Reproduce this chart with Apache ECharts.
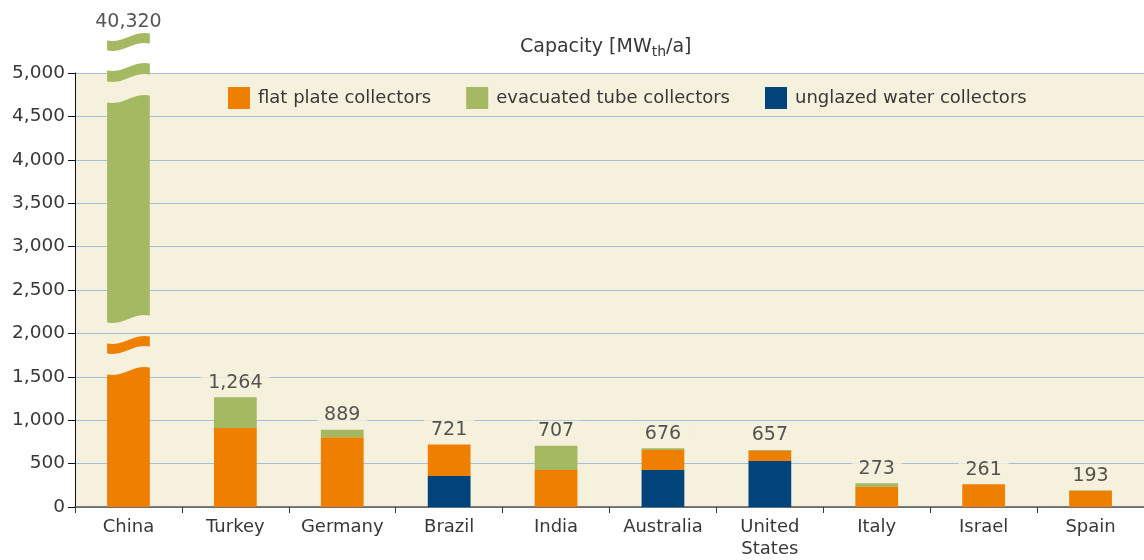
<!DOCTYPE html>
<html>
<head>
<meta charset="utf-8">
<script src="https://cdn.jsdelivr.net/npm/echarts@6/dist/echarts.min.js"></script>
<style>
  html, body { margin: 0; padding: 0; background: #fff; }
  #chart { width: 1144px; height: 560px; }
</style>
</head>
<body>
<div id="chart"></div>
<script>
// data (MWth/a)
const countries = ['China', 'Turkey', 'Germany', 'Brazil', 'India', 'Australia', 'United\nStates', 'Italy', 'Israel', 'Spain'];
const totals = [40320, 1264, 889, 721, 707, 676, 657, 273, 261, 193];
const flatPlate = [2400, 910, 805, 364, 426, 231, 115, 230, 261, 186];
const evacuatedTube = [37920, 354, 84, 0, 281, 19, 12, 43, 0, 7];
const unglazed = [0, 0, 0, 357, 0, 426, 530, 0, 0, 0];
const yTicks = [0, 500, 1000, 1500, 2000, 2500, 3000, 3500, 4000, 4500, 5000];

// China does not fit, so its bar is drawn broken (cuts in axis units)
const brokenTop = 5415;
const chinaOrangeParts = [[0, 1567], [1809, 1924]];
const chinaGreenParts = [[2166, 4700], [4942, 5069], [5300, brokenTop]];

const ORANGE = '#ee7f00';
const GREEN = '#a5b962';
const BLUE = '#00447b';
const BEIGE = '#f6f1dd';
const TEXT = '#383838';
const FONT = '"DejaVu Sans", sans-serif';

const chart = echarts.init(document.getElementById('chart'));

// wavy edge offset, screen px, t in 0..1
function wave(t) {
  return 3.5 * Math.cos(Math.PI * t) + 1 * Math.sin(2 * Math.PI * t);
}

function piecePoints(api, idx, from, to, halfW) {
  const c0 = api.coord([idx, from]);
  const c1 = api.coord([idx, to]);
  const x0 = c0[0] - halfW, x1 = c0[0] + halfW;
  const pts = [];
  const n = 16;
  // bottom edge, left to right
  for (let i = 0; i <= n; i++) {
    const t = i / n;
    pts.push([x0 + (x1 - x0) * t, c0[1] + (from === 0 ? 0 : wave(t))]);
  }
  // top edge, right to left
  for (let i = n; i >= 0; i--) {
    const t = i / n;
    pts.push([x0 + (x1 - x0) * t, c1[1] + wave(t)]);
  }
  return pts;
}

function renderBroken(params, api) {
  const idx = api.value(0);
  const halfW = api.size([1, 0])[0] * 0.4 / 2;
  const children = [];
  chinaOrangeParts.forEach(p => {
    children.push({ type: 'polygon', shape: { points: piecePoints(api, idx, p[0], p[1], halfW) }, style: { fill: ORANGE } });
  });
  chinaGreenParts.forEach(p => {
    children.push({ type: 'polygon', shape: { points: piecePoints(api, idx, p[0], p[1], halfW) }, style: { fill: GREEN } });
  });
  return { type: 'group', children: children };
}

const skipChina = arr => arr.map((v, i) => (i === 0 ? '-' : v));

const option = {
  animation: false,
  backgroundColor: '#fff',
  textStyle: { fontFamily: FONT },
  title: {
    text: '{a|Capacity [MW}{s|th}{a|/a]}',
    left: 515,
    top: 31,
    textStyle: {
      rich: {
        a: { fontFamily: FONT, fontSize: 19, color: TEXT, fontWeight: 'normal' },
        s: { fontFamily: FONT, fontSize: 14, color: TEXT, fontWeight: 'normal', padding: [9, 0, 0, 0] }
      }
    }
  },
  legend: {
    left: 223,
    top: 82,
    itemWidth: 22,
    itemHeight: 22,
    itemGap: 35,
    icon: 'rect',
    textStyle: { fontFamily: FONT, fontSize: 18, color: TEXT, padding: [0, 0, 0, 3] },
    data: ['flat plate collectors', 'evacuated tube collectors', 'unglazed water collectors']
  },
  grid: {
    left: 75, right: 0, top: 73, bottom: 53,
    show: true, backgroundColor: BEIGE, borderWidth: 0
  },
  xAxis: {
    type: 'category',
    data: countries,
    axisLine: { lineStyle: { color: '#555', width: 1.5 } },
    axisTick: { show: true, interval: 0, length: 6, lineStyle: { color: TEXT } },
    axisLabel: { interval: 0, fontFamily: FONT, fontSize: 18, color: TEXT, margin: 9, lineHeight: 22 }
  },
  yAxis: {
    type: 'value',
    min: 0, max: 5000, interval: 500,
    axisLine: { show: true, lineStyle: { color: '#111' } },
    axisTick: { show: true, length: 7, lineStyle: { color: '#111' } },
    axisLabel: {
      fontFamily: FONT, fontSize: 18.5, color: TEXT, margin: 10,
      formatter: v => (yTicks.indexOf(v) >= 0 ? v.toLocaleString('en-US') : '')
    },
    splitLine: { lineStyle: { color: '#a3bfdc', width: 1.2 } }
  },
  series: [
    {
      name: 'unglazed water collectors', type: 'bar', stack: 'cap', barWidth: '40%',
      itemStyle: { color: BLUE }, data: skipChina(unglazed)
    },
    {
      name: 'flat plate collectors', type: 'bar', stack: 'cap', barWidth: '40%',
      itemStyle: { color: ORANGE }, data: skipChina(flatPlate)
    },
    {
      name: 'evacuated tube collectors', type: 'bar', stack: 'cap', barWidth: '40%',
      itemStyle: { color: GREEN }, data: skipChina(evacuatedTube)
    },
    {
      type: 'custom', renderItem: renderBroken, clip: false, silent: true,
      data: [[0]]
    },
    {
      type: 'scatter', symbolSize: 0, clip: false, silent: true, z: 5,
      data: totals.map((v, i) => ({
        value: [i, Math.min(v, brokenTop)],
        label: i === 0 ? { backgroundColor: 'transparent' } : undefined
      })),
      label: {
        show: true, position: 'top', distance: 5,
        fontFamily: FONT, fontSize: 19, color: '#2a2a2a',
        backgroundColor: BEIGE, padding: [1, 7, 0, 7],
        formatter: p => totals[p.dataIndex].toLocaleString('en-US')
      }
    }
  ]
};

chart.setOption(option);
</script>
</body>
</html>
